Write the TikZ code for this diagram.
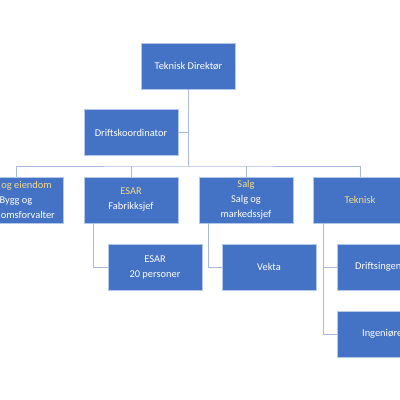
\documentclass[tikz,border=0pt]{standalone}
\usepackage{fontspec}
\setmainfont{Carlito}
\definecolor{boxblue}{HTML}{4472C4}
\definecolor{linkblue}{HTML}{A9B9DE}
\definecolor{headgold}{HTML}{F5DC8C}
\tikzset{
    unit/.style={draw=boxblue!40!white, line width=0.6pt, fill=boxblue, text=white,
        minimum width=94pt, minimum height=46pt, align=center, inner sep=1pt,
        font=\fontsize{10.4}{15}\selectfont},
    link/.style={draw=linkblue, line width=1pt},
    head/.style={text=headgold}
}
\begin{document}
\begin{tikzpicture}[x=1pt,y=-1pt]
        \useasboundingbox (0,0) rectangle (400,400);

        % top of the chart
        \node [unit] (dir) at (188.5,66) {Teknisk Direktør};
        \node [unit] (koord) at (131,132.5) {Driftskoordinator};

        % departments
        \node [unit] (eiendom) at (16,200) {\textcolor{headgold}{Drift og eiendom}\\Bygg og\\eiendomsforvalter};
        \node [unit] (esar) at (131,200) {\textcolor{headgold}{ESAR}\\Fabrikksjef};
        \node [unit] (salg) at (246,200) {\textcolor{headgold}{Salg}\\Salg og\\markedssjef};
        \node [unit] (teknisk) at (360,200) {\textcolor{headgold}{Teknisk}};

        % under the departments
        \node [unit] (personer) at (155,267) {ESAR\\20 personer};
        \node [unit] (vekta) at (269,267) {Vekta};
        \node [unit] (driftsing) at (384,267) {Driftsingeniør};
        \node [unit] (ingenior) at (384,334) {Ingeniører};

        \coordinate (bus) at (188.5,166);

        \begin{scope}[link]
            \draw (dir.south) -- (bus);
            \draw (koord.east) -- (koord.east -| dir.south);
            \draw (eiendom.north) |- (bus) -| (teknisk.north);
            \draw (esar.north) -- (esar.north |- bus);
            \draw (salg.north) -- (salg.north |- bus);
            \draw ([xshift=-38pt]esar.south) |- (personer.west);
            \draw ([xshift=-38pt]salg.south) |- (vekta.west);
            \draw ([xshift=-37pt]teknisk.south) |- (driftsing.west);
            \draw ([xshift=-37pt]teknisk.south) |- (ingenior.west);
        \end{scope}
    \end{tikzpicture}
\end{document}
